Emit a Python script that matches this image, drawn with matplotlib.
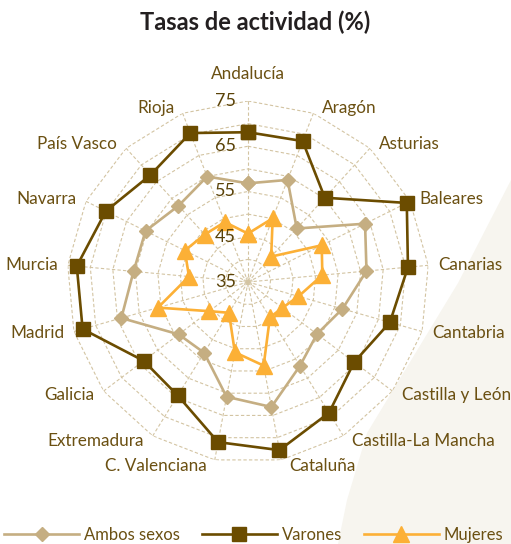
import numpy as np
import matplotlib
matplotlib.use('Agg')
import matplotlib.pyplot as plt
from matplotlib.patches import Polygon

# Tasas de actividad por comunidad autónoma
regiones = ['Andalucía', 'Aragón', 'Asturias', 'Baleares', 'Canarias', 'Cantabria',
            'Castilla y León', 'Castilla-La Mancha', 'Cataluña', 'C. Valenciana',
            'Extremadura', 'Galicia', 'Madrid', 'Murcia', 'Navarra', 'País Vasco', 'Rioja']
ambos = [56.8, 59.2, 51.0, 63.9, 61.3, 56.7, 54.1, 56.8, 63.1, 60.8,
         53.4, 54.2, 64.1, 60.4, 60.3, 57.8, 60.0]
varones = [68.1, 68.4, 60.2, 74.2, 70.5, 67.6, 64.4, 69.0, 72.8, 71.0,
           64.5, 63.9, 73.0, 73.0, 70.1, 67.0, 70.3]
mujeres = [45.7, 50.1, 42.6, 53.2, 51.5, 46.6, 44.5, 44.2, 53.8, 50.8,
           43.0, 45.7, 55.7, 48.1, 50.6, 49.2, 49.2]
ticks = [35, 45, 55, 65, 75]
anillos = [40, 45, 50, 55, 60, 65, 70, 75]

plt.rcParams['font.family'] = ['Lato', 'DejaVu Sans']

c_texto = '#6b5012'
c_grid = '#d3c4a2'
c_ambos = '#c5ae82'
c_var = '#6b4c00'
c_muj = '#fcb036'

fig = plt.figure(figsize=(5.11, 5.44), dpi=100)
W, H = 511, 544

# forma decorativa de fondo (abajo a la derecha), en un eje de fondo
fondo = fig.add_axes([0, 0, 1, 1], zorder=-1)
fondo.set_xlim(0, W)
fondo.set_ylim(H, 0)
fondo.axis('off')
borde = [(511, 180), (458, 283), (393, 390), (367, 433), (347, 500), (338, 544), (511, 544)]
fondo.add_patch(Polygon(borde, closed=True, facecolor='#f7f5ef', edgecolor='none'))

ax = fig.add_axes([67 / W, 1 - (282 + 181) / H, 362 / W, 362 / H], polar=True)
ax.patch.set_alpha(0)
ax.set_theta_zero_location('N')
ax.set_theta_direction(-1)
ax.set_ylim(35, 75)
ax.grid(False)
ax.spines['polar'].set_visible(False)
ax.set_xticks([])
ax.set_yticks([])

n = len(regiones)
ang = np.linspace(0, 2 * np.pi, n, endpoint=False)
ang_c = np.append(ang, ang[0])

# rejilla poligonal
for r in anillos:
    ax.plot(ang_c, [r] * (n + 1), color=c_grid, lw=0.8, ls=(0, (3, 2)), zorder=1)
for a in ang:
    ax.plot([a, a], [35, 75], color=c_grid, lw=0.8, ls=(0, (3, 2)), zorder=1)
circ = np.linspace(0, 2 * np.pi, 60)
ax.plot(circ, [35.9] * 60, color=c_grid, lw=0.8, ls=(0, (2, 1.5)), zorder=1)

# series
ax.plot(ang_c, ambos + ambos[:1], color=c_ambos, lw=1.9, marker='D', ms=7.5,
        zorder=3, label='Ambos sexos', clip_on=False)
ax.plot(ang_c, varones + varones[:1], color=c_var, lw=1.9, marker='s', ms=10,
        zorder=4, label='Varones', clip_on=False)
ax.plot(ang_c, mujeres + mujeres[:1], color=c_muj, lw=1.9, marker='^', ms=11,
        zorder=5, label='Mujeres', clip_on=False)

# etiquetas del eje radial
for t in ticks:
    ax.annotate(str(t), xy=(0, t), xytext=(-12, 0), textcoords='offset pixels',
                ha='right', va='center', fontsize=13, color='#5a4208', zorder=6)

# nombres de las regiones
for a, nombre in zip(ang, regiones):
    s, c = np.sin(a), np.cos(a)
    if abs(s) < 0.05:
        ax.annotate(nombre, xy=(a, 75), xytext=(0, 27), textcoords='offset pixels',
                    ha='center', va='center', fontsize=12.3, color=c_texto)
        continue
    ha = 'left' if s > 0 else 'right'
    dx = (7 + 3 * abs(s)) * np.sign(s)
    ax.annotate(nombre, xy=(a, 75), xytext=(dx, 6 * c), textcoords='offset pixels',
                ha=ha, va='center', fontsize=12.3, color=c_texto)

fig.text(0.5, 1 - 22 / H, 'Tasas de actividad (%)', ha='center', va='center',
         fontsize=17, fontweight='bold', color='#231f20')

fig.legend(loc='center', bbox_to_anchor=(0.497, 1 - 535 / H), ncol=3, frameon=False,
           handlelength=4.5, handletextpad=0.3, columnspacing=1.3,
           fontsize=12, labelcolor=c_texto)

fig.savefig('out.png', dpi=100)
